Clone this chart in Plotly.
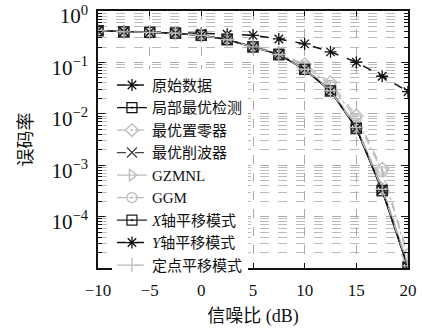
import plotly.graph_objects as go

snr = [-10, -7.5, -5, -2.5, 0, 2.5, 5, 7.5, 10, 12.5, 15, 17.5, 20]

ber_original = [0.42, 0.40, 0.39, 0.38, 0.372, 0.355, 0.337, 0.287, 0.230, 0.161, 0.101, 0.054, 0.027]
ber_local_opt = [0.416, 0.395, 0.386, 0.372, 0.337, 0.279, 0.201, 0.143, 0.0732, 0.0279, 0.0052, 3.2e-4, 1.05e-5]
ber_opt_zero = [0.416, 0.395, 0.386, 0.372, 0.337, 0.282, 0.205, 0.152, 0.092, 0.041, 0.0092, 8.5e-4, 1.8e-5]
ber_opt_clip = [0.416, 0.395, 0.386, 0.372, 0.337, 0.279, 0.202, 0.144, 0.0745, 0.0285, 0.0055, 3.5e-4, 1.1e-5]
ber_gzmnl = [0.416, 0.395, 0.386, 0.372, 0.337, 0.280, 0.203, 0.145, 0.076, 0.030, 0.0058, 3.8e-4, 1.2e-5]
ber_ggm = [0.416, 0.395, 0.386, 0.372, 0.337, 0.281, 0.204, 0.149, 0.085, 0.036, 0.0080, 7.5e-4, 1.6e-5]
ber_x_shift = [0.416, 0.395, 0.386, 0.372, 0.337, 0.279, 0.201, 0.143, 0.0732, 0.0279, 0.0052, 3.2e-4, 1.0e-5]
ber_y_shift = [0.416, 0.395, 0.386, 0.372, 0.337, 0.279, 0.201, 0.143, 0.0735, 0.0280, 0.0053, 3.3e-4, 1.05e-5]
ber_fixed_shift = [0.416, 0.395, 0.386, 0.372, 0.337, 0.279, 0.201, 0.143, 0.0738, 0.0282, 0.0054, 3.4e-4, 1.1e-5]

names = ["原始数据", "局部最优检测", "最优置零器", "最优削波器", "GZMNL", "GGM",
         "<i>X</i>轴平移模式", "<i>Y</i>轴平移模式", "定点平移模式"]

y_tickvals = [1, 1e-1, 1e-2, 1e-3, 1e-4]
y_ticktext = ["10<sup>0</sup>", "10<sup>−1</sup>", "10<sup>−2</sup>", "10<sup>−3</sup>", "10<sup>−4</sup>"]
x_tickvals = [-10, -5, 0, 5, 10, 15, 20]
x_ticktext = ["−10", "−5", "0", "5", "10", "15", "20"]

series = [
    (ber_original, "#111111", "dash", "asterisk-open", 1.5),
    (ber_local_opt, "#111111", "solid", "square-open-dot", 1.3),
    (ber_opt_zero, "#bbbbbb", "dash", "diamond-open-dot", 1.3),
    (ber_opt_clip, "#444444", "dash", "x-thin-open", 1.3),
    (ber_gzmnl, "#bbbbbb", "solid", "triangle-right-open", 1.3),
    (ber_ggm, "#bbbbbb", "dashdot", "circle-open-dot", 1.3),
    (ber_x_shift, "#222222", "solid", "square-open-dot", 1.3),
    (ber_y_shift, "#111111", "dashdot", "asterisk-open", 1.5),
    (ber_fixed_shift, "#bbbbbb", "dash", "cross-thin-open", 1.3),
]

fig = go.Figure()
for (vals, color, dash, sym, lw), name in zip(series, names):
    fig.add_trace(go.Scatter(
        x=snr, y=vals, name=name, mode="lines+markers",
        line=dict(color=color, dash=dash, width=lw),
        marker=dict(symbol=sym, size=10, color=color, line=dict(color=color, width=1.3)),
    ))

minor_vals = []
for e in range(-5, 0):
    for m in range(2, 10):
        minor_vals.append(m * 10 ** e)

serif = "Liberation Serif, Noto Sans CJK SC"

fig.update_layout(
    width=422, height=336,
    margin=dict(l=98, r=14, t=11, b=68, autoexpand=False),
    paper_bgcolor="white", plot_bgcolor="white",
    font=dict(family=serif, size=18, color="#111111"),
    showlegend=True,
    legend=dict(
        x=0.045, y=0.775, xanchor="left", yanchor="top",
        bgcolor="white", borderwidth=0,
        font=dict(family=serif, size=15, color="#111111"),
        itemwidth=30, tracegroupgap=0,
    ),
    xaxis=dict(
        range=[-10, 20], tickmode="array", tickvals=x_tickvals, ticktext=x_ticktext,
        ticks="inside", ticklen=5, tickcolor="#111111",
        showline=True, linecolor="#111111", linewidth=1.5, mirror="ticks",
        showgrid=True, gridcolor="#aaaaaa", griddash="dash", gridwidth=1,
        zeroline=False, automargin=False,
        title=dict(text="信噪比 (dB)", font=dict(family=serif, size=18), standoff=10),
        tickfont=dict(family=serif, size=17),
        ticklabelstandoff=6, ticklabeloverflow="allow",
    ),
    yaxis=dict(
        type="log", range=[-5, 0.002], tickmode="array", tickvals=y_tickvals, ticktext=y_ticktext,
        ticks="inside", ticklen=7, tickcolor="#111111",
        showline=True, linecolor="#111111", linewidth=1.5, mirror="ticks",
        showgrid=True, gridcolor="#aaaaaa", griddash="dash", gridwidth=1,
        zeroline=False, automargin=False,
        minor=dict(tickmode="array", tickvals=minor_vals, ticks="inside", ticklen=4,
                   tickcolor="#111111", showgrid=True, gridcolor="#bbbbbb", griddash="dash"),
        title=dict(text="误码率", font=dict(family=serif, size=18), standoff=14),
        tickfont=dict(family=serif, size=21),
        ticklabelstandoff=4, ticklabeloverflow="allow", ticklabelshift=5,
    ),
)

fig.write_html("out.html", config={"displayModeBar": False},
               post_script="document.body.style.margin='0px';")
